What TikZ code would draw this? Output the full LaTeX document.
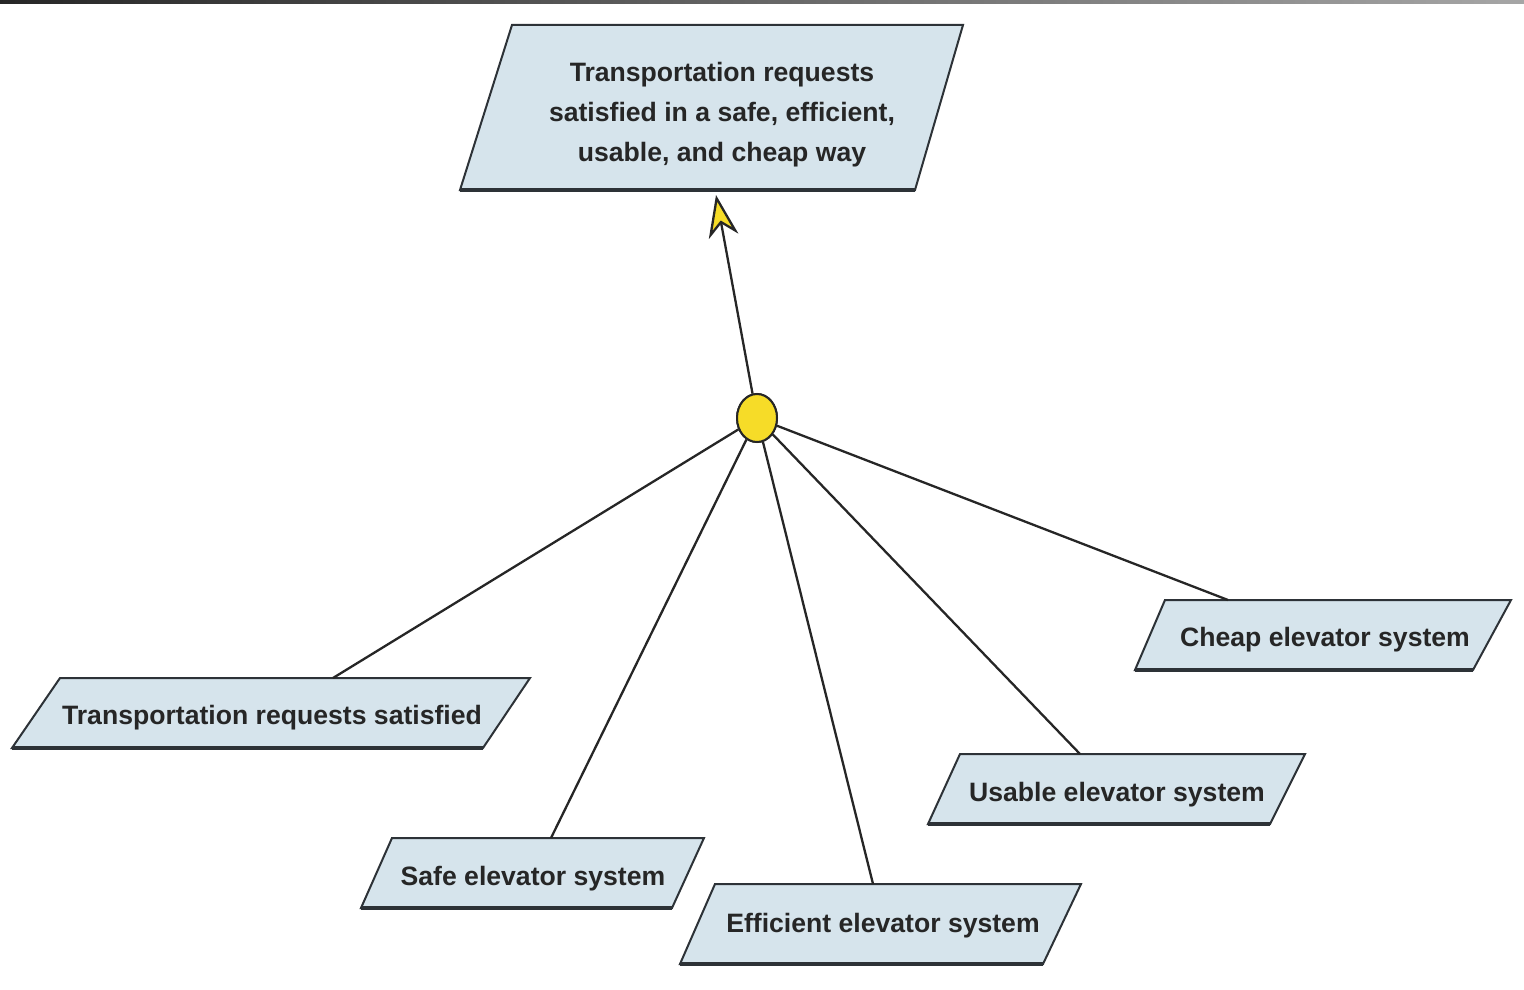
\documentclass[tikz,border=0pt]{standalone}
\usepackage{fontspec}
\setmainfont{Liberation Sans}
\usetikzlibrary{shapes.geometric,arrows.meta}
\definecolor{goalfill}{RGB}{214,228,236}
\definecolor{edgegray}{RGB}{45,50,55}
\definecolor{andyellow}{RGB}{246,220,40}
\begin{document}
\begin{tikzpicture}[x=1pt,y=-1pt,
  goalbox/.style={fill=goalfill, draw=edgegray, line width=2pt, line join=miter},
  goalbase/.style={draw=edgegray, line width=4.5pt},
  goaltext/.style={font=\bfseries\fontsize{26.6}{40}\selectfont, align=center, inner sep=0pt, text=black!85},
  link/.style={line width=2.3pt, draw=black!85},
  andnode/.style={ellipse, fill=andyellow, draw=black!85, line width=2pt,
                  minimum width=40pt, minimum height=48pt, inner sep=0pt}]
\useasboundingbox (0,0) rectangle (1524,990);
% header strip
\shade[left color=black!85, right color=black!35] (0,0) rectangle (1524,4);

% parent goal
\draw[goalbox] (512,25) -- (963,25) -- (915,190) -- (460,190) -- cycle;
\draw[goalbase] (460,190) -- (915,190);
\node[goaltext] (parent) at (722,115) {Transportation requests\\satisfied in a safe, efficient,\\usable, and cheap way};
\coordinate (parentin) at (716,195);

% sub-goals
\draw[goalbox] (60,678) -- (530,678) -- (483,748) -- (12,748) -- cycle;
\draw[goalbase] (12,748) -- (483,748);
\node[goaltext] (satisfied) at (272,718) {Transportation requests satisfied};
\coordinate (satisfiedin) at (333,678);

\draw[goalbox] (392,838) -- (704,838) -- (672,908) -- (361,908) -- cycle;
\draw[goalbase] (361,908) -- (672,908);
\node[goaltext] (safe) at (533,879) {Safe elevator system};
\coordinate (safein) at (551,838);

\draw[goalbox] (715,884) -- (1081,884) -- (1043,964) -- (680,964) -- cycle;
\draw[goalbase] (680,964) -- (1043,964);
\node[goaltext] (efficient) at (883,926) {Efficient elevator system};
\coordinate (efficientin) at (873,884);

\draw[goalbox] (960,754) -- (1305,754) -- (1270,824) -- (928,824) -- cycle;
\draw[goalbase] (928,824) -- (1270,824);
\node[goaltext] (usable) at (1117,795) {Usable elevator system};
\coordinate (usablein) at (1080,754);

\draw[goalbox] (1165,600) -- (1511,600) -- (1473,670) -- (1135,670) -- cycle;
\draw[goalbase] (1135,670) -- (1473,670);
\node[goaltext] (cheap) at (1325,640) {Cheap elevator system};
\coordinate (cheapin) at (1228,600);

% AND refinement
\node[andnode] (and) at (757,418) {};
\draw[link, -{Stealth[length=42pt, width=30pt, inset=13pt, fill=andyellow]}] (and) -- (parentin);
\draw[link] (and) -- (satisfiedin);
\draw[link] (and) -- (safein);
\draw[link] (and) -- (efficientin);
\draw[link] (and) -- (usablein);
\draw[link] (and) -- (cheapin);
\node[andnode] at (and) {};
\end{tikzpicture}
\end{document}
